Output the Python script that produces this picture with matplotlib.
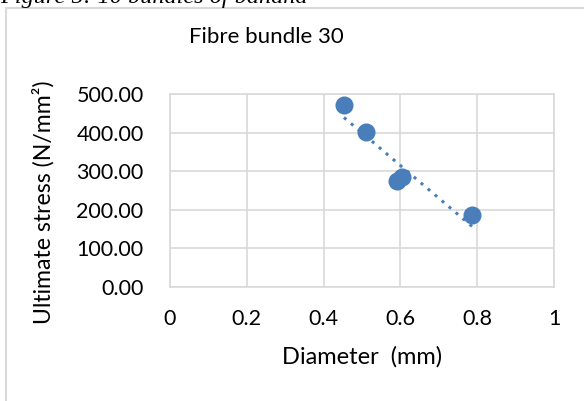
import numpy as np
from matplotlib import pyplot as plt
from matplotlib.lines import Line2D

plt.rcParams['font.family'] = ['Lato', 'DejaVu Sans']

diameter = [0.453, 0.511, 0.591, 0.603, 0.787]
stress = [472, 402, 275, 284, 186]
x_ticks = [0, 0.2, 0.4, 0.6, 0.8, 1]
y_ticks = [0, 100, 200, 300, 400, 500]

blue = '#4a7ebb'
grid_grey = '#d9d9d9'
W, H = 584, 401

fig = plt.figure(figsize=(W / 100, H / 100), dpi=100)

# caption of the document, cut at the top like in the source page
fig.text(0, 1 - 3.5 / H, 'Figure 5: 10 bundles of banana', family='Liberation Serif',
         style='italic', fontsize=17.5, va='baseline', ha='left')

# chart border (only left and top visible)
fig.add_artist(Line2D([6 / W, 1], [1 - 8 / H, 1 - 8 / H], color=grid_grey, lw=1.5))
fig.add_artist(Line2D([6 / W, 6 / W], [0, 1 - 8 / H], color=grid_grey, lw=1.5))

ax = fig.add_axes([170 / W, (H - 286.7) / H, 384 / W, 192.7 / H])
ax.scatter(diameter, stress, s=13 ** 2, color=blue, zorder=3, linewidths=0)

# linear trendline
k, b = np.polyfit(diameter, stress, 1)
tx = np.array([min(diameter), max(diameter)])
ax.plot(tx, k * tx + b, color=blue, lw=2.2, linestyle=(0, (1, 2)), zorder=2)

ax.set_xlim(0, 1)
ax.set_ylim(0, 500)
ax.set_xticks(x_ticks)
ax.set_xticklabels(['0', '0.2', '0.4', '0.6', '0.8', '1'])
ax.set_yticks(y_ticks)
ax.set_yticklabels([f'{v:.2f}' for v in y_ticks])
ax.grid(True, color=grid_grey, lw=1.2)
ax.set_axisbelow(True)
for sp in ax.spines.values():
    sp.set_color(grid_grey)
    sp.set_linewidth(1.2)
ax.tick_params(length=0, labelsize=15.5, colors='black')
ax.tick_params(axis='x', pad=16)
ax.tick_params(axis='y', pad=19)

fig.text(266 / W, 1 - 37 / H, 'Fibre bundle 30', fontsize=16, ha='center', va='center')
fig.text(362 / W, 1 - 357 / H, 'Diameter  (mm)', fontsize=17, ha='center', va='center')
fig.text(43 / W, 1 - 202 / H, 'Ultimate stress (N/mm²)', fontsize=16.6, ha='center',
         va='center', rotation=90)

fig.savefig('out.png', dpi=100)
